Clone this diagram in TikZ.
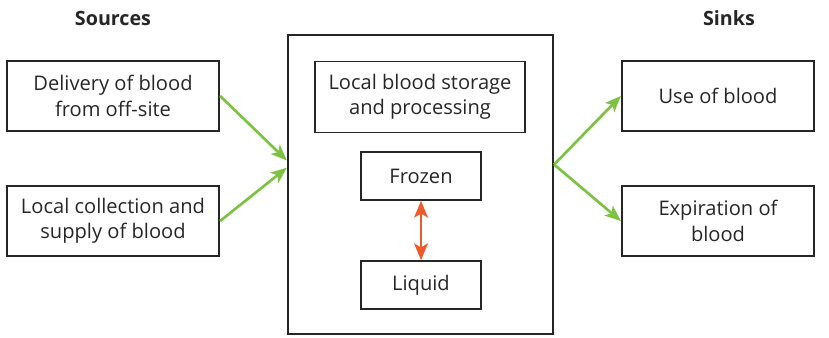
\documentclass[tikz,border=0pt]{standalone}
\usepackage{fontspec}
\setmainfont{Open Sans}
\usetikzlibrary{calc, arrows.meta}

\definecolor{leafgreen}{HTML}{7DC242}
\definecolor{redorange}{HTML}{EF5A2A}

\tikzset{
  box/.style={draw=black!85, line width=1.6pt, align=center, inner sep=0pt,
    font=\fontsize{14.3}{18}\selectfont, text=black!85},
  head/.style={font=\bfseries\fontsize{14}{18}\selectfont, text=black!85},
  flow/.style={draw=leafgreen, line width=1.9pt, -{Stealth[length=0.4cm, width=0.32cm, inset=0.1cm]}},
  swap/.style={draw=redorange, line width=2pt, {Stealth[length=0.42cm, width=0.34cm, inset=0.1cm]}-{Stealth[length=0.42cm, width=0.34cm, inset=0.1cm]}}
}

\begin{document}
\begin{tikzpicture}
\useasboundingbox (0, 0) rectangle (20.725, 8.425);
% headings
\node[head] (src) at (2.825, 7.975) {Sources};
\node[head] (snk) at (18.225, 7.975) {Sinks};
% sources
\node[box, minimum width=5.3cm, minimum height=1.75cm] (deliv) at (2.825, 6.025) {Delivery of blood\\from off-site};
\node[box, minimum width=5.3cm, minimum height=1.75cm] (collect) at (2.825, 2.9) {Local collection and\\supply of blood};
% local storage
\node[box, minimum width=6.625cm, minimum height=7.475cm] (store) at (10.5125, 3.8125) {};
\node[box, minimum width=5.25cm, minimum height=1.775cm, line width=1pt] (proc) at (10.5, 6.0) {Local blood storage\\and processing};
\node[box, minimum width=3cm, minimum height=1.2cm, line width=1pt] (frozen) at (10.525, 4.025) {Frozen};
\node[box, minimum width=3cm, minimum height=1.2cm, line width=1pt] (liquid) at (10.525, 1.3) {Liquid};
% sinks
\node[box, minimum width=4.8cm, minimum height=1.75cm] (use) at (17.95, 6.025) {Use of blood};
\node[box, minimum width=4.8cm, minimum height=1.75cm] (expire) at (17.95, 2.9) {Expiration of\\blood};
% arrow ends on the storage box
\coordinate (inA) at ($(store.west) + (0, 0.6)$);
\coordinate (inB) at ($(store.west) + (0, 0.42)$);
\coordinate (out) at ($(store.east) + (0, 0.5)$);
% flows
\draw[flow] (deliv.east) -- (inA);
\draw[flow] (collect.east) -- (inB);
\draw[flow] (out) -- (use.west);
\draw[flow] (out) -- (expire.west);
\draw[swap] (frozen.south) -- (liquid.north);
\end{tikzpicture}
\end{document}
